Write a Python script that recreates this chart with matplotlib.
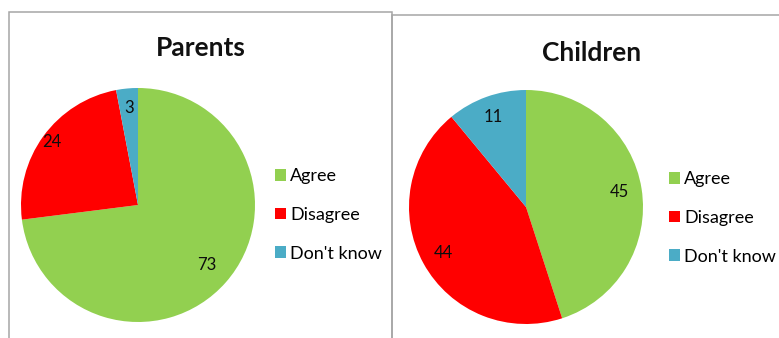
import matplotlib
matplotlib.use("Agg")
import matplotlib.pyplot as plt
from matplotlib.patches import Rectangle, Patch

categories = ["Agree", "Disagree", "Don't know"]
parents = [73, 24, 3]
children = [45, 44, 11]
colors = ["#92D050", "#FF0000", "#4BACC6"]

plt.rcParams['font.family'] = ['Lato', 'DejaVu Sans']

W, H = 779, 338
fig = plt.figure(figsize=(W / 100, H / 100), dpi=100)
fig.patch.set_facecolor("white")

def px_box(x0, y0, x1, y1):
    return [x0 / W, 1 - y1 / H, (x1 - x0) / W, (y1 - y0) / H]

# panel borders
fig.patches.append(Rectangle((9 / W, -0.05), (392 - 9) / W, 1.05 - 12 / H,
                             transform=fig.transFigure, fill=False,
                             edgecolor="#A6A6A6", lw=1.1))
fig.patches.append(Rectangle((392 / W, -0.05), 0.5, 1.05 - 15 / H,
                             transform=fig.transFigure, fill=False,
                             edgecolor="#A6A6A6", lw=1.1))

def draw(vals, title, box, title_xy, leg_xy, label_r):
    ax = fig.add_axes(px_box(*box))
    _, _, autotexts = ax.pie(vals, colors=colors, startangle=90, counterclock=False,
                             autopct=lambda p: f"{p:.0f}", pctdistance=0.81,
                             textprops=dict(fontsize=12, color="#0d0d0d"),
                             wedgeprops=dict(linewidth=0))
    for t, r in zip(autotexts, label_r):
        x, y = t.get_position()
        t.set_position((x * r / 0.81, y * r / 0.81))
    ax.set_xlim(-1, 1)
    ax.set_ylim(-1, 1)
    ax.set_aspect("equal")
    fig.text(title_xy[0] / W, 1 - title_xy[1] / H, title, fontsize=19,
             fontweight="bold", ha="center", va="center", color="#111111")
    handles = [Patch(facecolor=c, edgecolor="none") for c in colors]
    fig.legend(handles, categories, loc="center left",
               bbox_to_anchor=(leg_xy[0] / W, 1 - leg_xy[1] / H),
               frameon=False, fontsize=13, handlelength=0.6,
               handleheight=0.6, handletextpad=0.25, labelspacing=1.25,
               borderpad=0, borderaxespad=0)

draw(parents, "Parents", (21, 88, 255, 322), (201, 48), (275, 215), (0.78, 0.91, 0.83))
draw(children, "Children", (409, 90, 643, 324), (592, 53), (669, 218), (0.81, 0.81, 0.82))

fig.savefig("out.png", dpi=100)
